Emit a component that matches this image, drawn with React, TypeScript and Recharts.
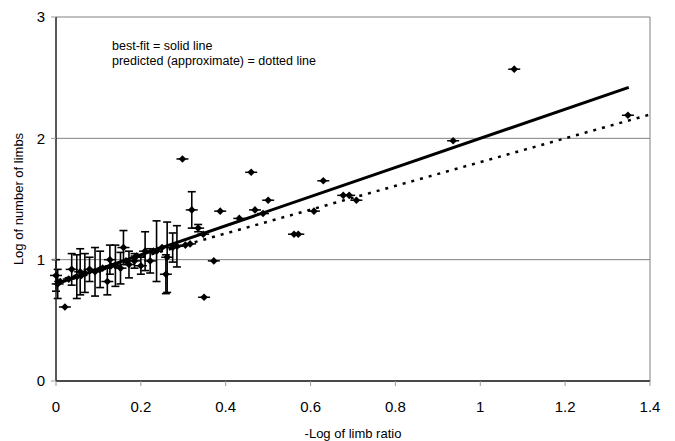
import React from "react";
import {
  CartesianGrid,
  ErrorBar,
  ReferenceLine,
  Scatter,
  ScatterChart,
  XAxis,
  YAxis,
} from "recharts";

// species with error bars (mean ± spread), clustered near the origin
const barX = [
  0.0, 0.004, 0.037, 0.049, 0.057, 0.068, 0.079, 0.092, 0.104, 0.121, 0.127,
  0.14, 0.152, 0.159, 0.172, 0.185, 0.2, 0.21, 0.222, 0.237, 0.259, 0.262,
  0.275, 0.285, 0.32, 0.335,
];
const barY = [
  0.87, 0.8, 0.92, 0.86, 0.9, 0.89, 0.92, 0.9, 0.92, 0.82, 1.0, 0.95, 0.93,
  1.1, 0.96, 0.99, 0.95, 1.07, 0.99, 1.07, 0.88, 1.02, 1.1, 1.11, 1.41, 1.26,
];
const barErr = [
  0.13, 0.12, 0.13, 0.18, 0.19, 0.16, 0.1, 0.2, 0.15, 0.11, 0.12, 0.17, 0.13,
  0.14, 0.11, 0.06, 0.07, 0.16, 0.1, 0.25, 0.16, 0.29, 0.12, 0.17, 0.15, 0.03,
];

// single observations
const dotX = [
  0.01, 0.021, 0.03, 0.06, 0.11, 0.13, 0.165, 0.19, 0.23, 0.25, 0.298, 0.305,
  0.316, 0.347, 0.349, 0.372, 0.387, 0.432, 0.46, 0.469, 0.488, 0.5, 0.561,
  0.571, 0.608, 0.63, 0.677, 0.691, 0.708, 0.936, 1.08, 1.348,
];
const dotY = [
  0.82, 0.61, 0.84, 0.87, 0.93, 0.95, 0.99, 1.03, 1.07, 1.1, 1.83, 1.12, 1.13,
  1.21, 0.69, 0.99, 1.4, 1.34, 1.72, 1.41, 1.38, 1.49, 1.21, 1.21, 1.4, 1.65,
  1.53, 1.53, 1.49, 1.98, 2.57, 2.19,
];

const fitX = [0, 1.35];
const fitY = [0.8, 2.42];
const predX = [0, 1.4];
const predY = [0.824, 2.196];

const xTicks = [0, 0.2, 0.4, 0.6, 0.8, 1, 1.2, 1.4];
const yTicks = [0, 1, 2, 3];

const points = [
  ...barX.map((x, i) => ({ x, y: barY[i], err: barErr[i] })),
  ...dotX.map((x, i) => ({ x, y: dotY[i], err: 0 })),
];
const fit = fitX.map((x, i) => ({ x, y: fitY[i] }));
const pred = predX.map((x, i) => ({ x, y: predY[i] }));

const FONT = "'Liberation Sans', Arial, sans-serif";

function Diamond(props: any) {
  const { cx, cy } = props;
  if (cx == null || cy == null) return <g />;
  return (
    <g>
      <line x1={cx - 6} x2={cx + 6} y1={cy} y2={cy} stroke="#000" strokeWidth={1.5} />
      <path
        d={`M${cx},${cy - 3.8} L${cx + 3.8},${cy} L${cx},${cy + 3.8} L${cx - 3.8},${cy} Z`}
        fill="#000"
      />
    </g>
  );
}

const noShape = () => <g />;

export default function App() {
  return (
    <div style={{ position: "relative", width: 675, height: 441, fontFamily: FONT }}>
      <style>{`body{margin:0}`}</style>
      <ScatterChart
        width={675}
        height={441}
        margin={{ top: 17, right: 25, bottom: 0, left: 0 }}
      >
        <CartesianGrid vertical={false} stroke="#808080" />
        <XAxis
          type="number"
          dataKey="x"
          domain={[0, 1.4]}
          ticks={xTicks}
          height={60}
          tickSize={5}
          tickMargin={15}
          axisLine={{ stroke: "#222", strokeWidth: 1.5 }}
          tickLine={{ stroke: "#999" }}
          tick={{ fill: "#000", fontSize: 15, fontFamily: FONT }}
          label={{
            value: "-Log of limb ratio",
            position: "insideBottom",
            offset: 3,
            style: { fill: "#000", fontSize: 13, fontFamily: FONT },
          }}
        />
        <YAxis
          type="number"
          dataKey="y"
          domain={[0, 3]}
          ticks={yTicks}
          width={56}
          tickSize={5}
          tickMargin={6}
          axisLine={{ stroke: "#222", strokeWidth: 1.5 }}
          tickLine={{ stroke: "#999" }}
          tick={{ fill: "#000", fontSize: 15, fontFamily: FONT }}
          label={{
            value: "Log of number of limbs",
            angle: -90,
            position: "insideLeft",
            offset: 18,
            style: { fill: "#000", fontSize: 13, fontFamily: FONT, textAnchor: "middle" },
          }}
        />
        <ReferenceLine x={1.4} stroke="#808080" />
        <Scatter data={points} shape={Diamond} isAnimationActive={false}>
          <ErrorBar dataKey="err" direction="y" width={4} stroke="#000" strokeWidth={1.6} />
        </Scatter>
        <Scatter
          data={pred}
          line={{ stroke: "#000", strokeWidth: 2.5, strokeDasharray: "3 6" }}
          shape={noShape}
          isAnimationActive={false}
        />
        <Scatter
          data={fit}
          line={{ stroke: "#000", strokeWidth: 3 }}
          shape={noShape}
          isAnimationActive={false}
        />
      </ScatterChart>
      <div
        style={{
          position: "absolute",
          left: 112,
          top: 39,
          fontSize: 12.5,
          lineHeight: "15px",
          color: "#000",
          whiteSpace: "nowrap",
        }}
      >
        <div>best-fit = solid line</div>
        <div>predicted (approximate) = dotted line</div>
      </div>
    </div>
  );
}
